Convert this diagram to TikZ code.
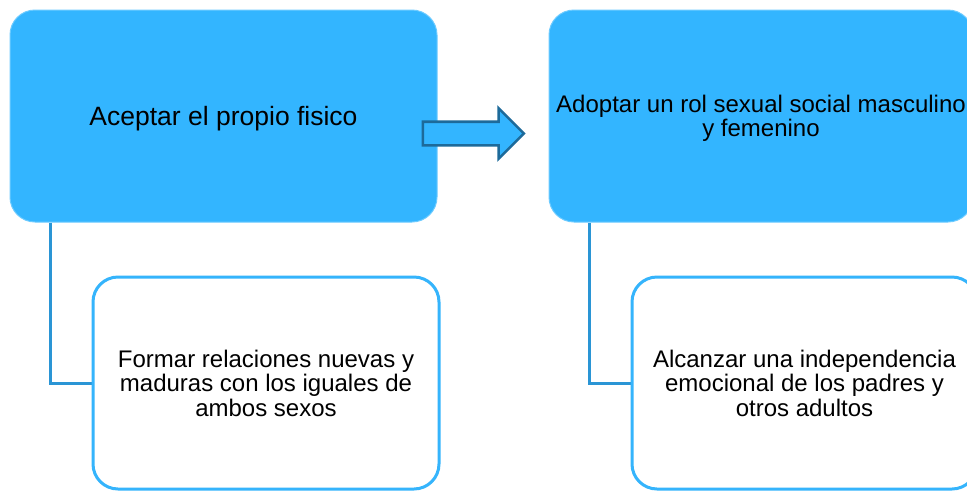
\documentclass[tikz,border=0pt]{standalone}
\usepackage{fontspec}
\setmainfont{Liberation Sans}
\usetikzlibrary{shapes.arrows}
\definecolor{boxblue}{HTML}{33B5FF}
\definecolor{edgeblue}{HTML}{6CCBFF}
\definecolor{linkblue}{HTML}{2A95D5}
\definecolor{arrowedge}{HTML}{1D6A9A}
\definecolor{wbord}{HTML}{35B4FC}
\begin{document}
\begin{tikzpicture}[x=1pt,y=-1pt,
  bluebox/.style={rectangle, rounded corners=25pt, fill=boxblue, draw=edgeblue,
    line width=1pt, minimum height=212pt, align=center, inner sep=0pt,
    text depth=0pt, font=\fontsize{24pt}{24.5pt}\selectfont},
  whitebox/.style={rectangle, rounded corners=25pt, fill=white, draw=wbord,
    line width=3pt, minimum height=212pt, align=center, inner sep=0pt,
    font=\fontsize{24pt}{24.5pt}\selectfont},
  link/.style={draw=linkblue, line width=3pt},
  bigarrow/.style={single arrow, fill=boxblue, draw=arrowedge, line width=2.6pt,
    minimum height=101pt, inner sep=10.5pt, single arrow head extend=13.5pt}]
\clip (0,0) rectangle (967,491);
\fill[white] (0,0) rectangle (967,491);
\node[bluebox, minimum width=427pt, font=\fontsize{26.5pt}{27pt}\selectfont] (lb) at (223.5,116) {Aceptar el propio fisico};
\node[bluebox, minimum width=424pt] (rb) at (761,116) {Adoptar un rol sexual social masculino\\y femenino};
\draw[link] ([xshift=41pt]lb.south west) |- (266,383) coordinate (lwc);
\draw[link] ([xshift=41pt]rb.south west) |- (804.5,383) coordinate (rwc);
\node[whitebox, minimum width=346pt] (lw) at (lwc) {Formar relaciones nuevas y\\maduras con los iguales de\\ambos sexos};
\node[whitebox, minimum width=345pt] (rw) at (rwc) {Alcanzar una independencia\\emocional de los padres y\\otros adultos};
\node[bigarrow] (arr) at (467.5,133.5) {};
\end{tikzpicture}
\end{document}
